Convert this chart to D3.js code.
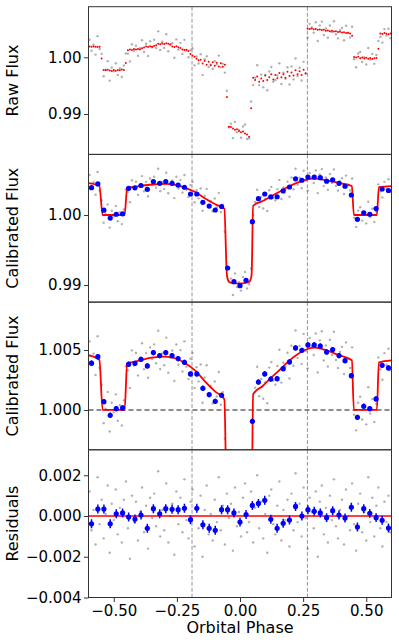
<!DOCTYPE html>
<html>
<head>
<meta charset="utf-8">
<script src="https://cdn.jsdelivr.net/npm/d3@7"></script>
<style>
  body { margin: 0; background: #fff; }
  svg text { font-family: "DejaVu Sans", sans-serif; fill: #000; }
</style>
</head>
<body>
<svg id="chart" width="399" height="642"></svg>
<script>
// ---- data ----
const phase = [
  -0.596,-0.588,-0.580,-0.572,-0.564,-0.556,-0.548,-0.540,-0.532,-0.524,
  -0.516,-0.508,-0.500,-0.492,-0.484,-0.476,-0.468,-0.460,-0.452,-0.444,
  -0.436,-0.428,-0.420,-0.412,-0.404,-0.396,-0.388,-0.380,-0.372,-0.364,
  -0.356,-0.348,-0.340,-0.332,-0.324,-0.316,-0.308,-0.300,-0.292,-0.284,
  -0.276,-0.268,-0.260,-0.252,-0.244,-0.236,-0.228,-0.220,-0.212,-0.204,
  -0.196,-0.188,-0.180,-0.172,-0.164,-0.156,-0.148,-0.140,-0.132,-0.124,
  -0.116,-0.108,-0.100,-0.092,-0.084,-0.076,-0.068,-0.060,-0.052,-0.044,
  -0.036,-0.028,-0.020,-0.012,-0.004,0.004,0.012,0.020,0.028,0.036,
  0.044,0.052,0.060,0.068,0.076,0.084,0.092,0.100,0.108,0.116,
  0.124,0.132,0.140,0.148,0.156,0.164,0.172,0.180,0.188,0.196,
  0.204,0.212,0.220,0.228,0.236,0.244,0.252,0.260,0.268,0.276,
  0.284,0.292,0.300,0.308,0.316,0.324,0.332,0.340,0.348,0.356,
  0.364,0.372,0.380,0.388,0.396,0.404,0.412,0.420,0.428,0.436,
  0.444,0.452,0.460,0.468,0.476,0.484,0.492,0.500,0.508,0.516,
  0.524,0.532,0.540,0.548,0.556,0.564,0.572,0.580,0.588,0.596
];

// raw systematics fit (red dots, top panel)
const rawFit = [
  1.00190,1.00185,1.00192,1.00188,1.00183,1.00186,0.99980,0.99775,0.99770,0.99782,
  0.99768,0.99760,0.99774,0.99765,0.99778,0.99770,0.99783,0.99776,0.99900,1.00125,
  1.00138,1.00130,1.00145,1.00136,1.00148,1.00140,1.00160,1.00175,1.00190,1.00182,
  1.00195,1.00188,1.00200,1.00215,1.00238,1.00230,1.00245,1.00236,1.00248,1.00238,
  1.00225,1.00190,1.00182,1.00196,1.00178,1.00165,1.00140,1.00128,1.00135,1.00110,
  1.00060,1.00030,1.00008,0.99975,0.99950,0.99955,0.99890,0.99935,0.99870,0.99920,
  0.99860,0.99915,0.99850,0.99905,0.99840,0.99895,0.99835,0.99870,0.99300,0.98775,
  0.98770,0.98745,0.98720,0.98730,0.98700,0.98680,0.98690,0.98655,0.98640,0.98600,
  0.99100,0.99640,0.99600,0.99660,0.99570,0.99625,0.99580,0.99680,0.99600,0.99650,
  0.99700,0.99610,0.99690,0.99630,0.99725,0.99650,0.99700,0.99640,0.99745,0.99670,
  0.99730,0.99680,0.99770,0.99700,0.99755,0.99690,0.99780,0.99720,1.00505,1.00500,
  1.00508,1.00495,1.00498,1.00488,1.00492,1.00480,1.00485,1.00470,1.00475,1.00462,
  1.00468,1.00455,1.00458,1.00445,1.00450,1.00436,1.00440,1.00428,1.00432,1.00420,
  1.00380,1.00005,0.99995,1.00008,0.99985,0.99998,0.99980,0.99992,0.99975,0.99990,
  0.99970,0.99985,0.99990,1.00150,1.00420,1.00410,1.00428,1.00415,1.00405,1.00418
];

// raw flux (grey, top panel)
const rawFlux = [
  1.00310,1.00115,1.00222,1.00048,1.00373,1.00146,1.00060,0.99665,0.99780,0.99932,
  0.99588,0.99820,0.99754,0.99895,0.99688,0.99810,0.99653,0.99856,1.00070,1.00065,
  0.99928,1.00230,1.00115,1.00206,1.00028,1.00160,1.00300,1.00095,1.00240,1.00022,
  1.00285,1.00178,1.00310,1.00165,1.00458,1.00130,1.00275,1.00166,1.00408,1.00108,
  1.00225,1.00250,0.99992,1.00316,1.00138,1.00255,1.00060,1.00308,1.00115,1.00000,
  1.00130,1.00160,0.99858,1.00015,0.99890,1.00055,0.99690,0.99965,1.00020,0.99830,
  0.99870,0.99795,0.99930,0.99875,1.00030,0.99825,0.99885,0.99730,0.99410,0.98765,
  0.98830,0.98575,0.98860,0.98680,0.98720,0.98580,0.98780,0.98815,0.98560,0.98570,
  0.99220,0.99510,0.99640,0.99860,0.99510,0.99695,0.99470,0.99690,0.99420,0.99750,
  0.99830,0.99570,0.99600,0.99680,0.99895,0.99530,0.99730,0.99620,0.99825,0.99520,
  0.99840,0.99610,0.99980,0.99670,0.99815,0.99590,0.99920,0.99710,1.00345,1.00590,
  1.00528,1.00435,1.00618,1.00288,1.00562,1.00630,1.00395,1.00510,1.00345,1.00562,
  1.00448,1.00635,1.00408,1.00335,1.00480,1.00516,1.00300,1.00558,1.00432,1.00350,
  1.00540,0.99965,0.99825,1.00068,1.00095,0.99918,1.00000,0.99872,1.00165,0.99960,
  1.00060,0.99885,1.00040,1.00290,1.00360,1.00260,1.00498,1.00385,1.00505,1.00338
];

// calibrated flux (grey, panels 2 and 3)
const calFlux = [
  1.00572,1.00375,1.00468,1.00291,1.00614,1.00350,1.00210,0.99890,1.00010,1.00150,
  0.99820,1.00060,0.99980,1.00130,0.99910,1.00040,0.99870,1.00080,1.00365,1.00330,
  1.00184,1.00497,1.00371,1.00475,1.00288,1.00432,1.00556,1.00340,1.00474,1.00268,
  1.00522,1.00426,1.00547,1.00389,1.00660,1.00341,1.00472,1.00373,1.00603,1.00310,
  1.00437,1.00495,1.00242,1.00546,1.00377,1.00499,1.00321,1.00572,1.00361,1.00259,
  1.00427,1.00475,1.00183,1.00357,1.00238,1.00379,1.00060,1.00271,1.00373,1.00117,
  1.00200,1.00054,1.00237,1.00112,1.00317,1.00043,1.00149,0.99762,0.99260,0.99045,
  0.99092,0.98858,0.99165,0.98972,0.99040,0.98920,0.99113,0.99187,0.98951,0.99012,
  0.99235,1.00001,1.00186,1.00360,1.00115,1.00259,1.00094,1.00230,1.00057,1.00353,
  1.00400,1.00246,1.00211,1.00367,1.00502,1.00228,1.00394,1.00361,1.00477,1.00262,
  1.00535,1.00369,1.00662,1.00434,1.00534,1.00384,1.00634,1.00492,1.00346,1.00600,
  1.00534,1.00458,1.00637,1.00313,1.00580,1.00656,1.00413,1.00538,1.00362,1.00585,
  1.00459,1.00652,1.00416,1.00350,1.00483,1.00526,1.00300,1.00563,1.00426,1.00350,
  1.00522,0.99960,0.99830,1.00060,1.00110,0.99920,1.00020,0.99880,1.00190,0.99970,
  1.00090,0.99900,1.00050,1.00438,1.00339,1.00252,1.00474,1.00377,1.00510,1.00333
];

// residuals (grey, bottom panel)
const resid = [
  0.0012,-0.0007,0.0003,-0.0014,0.0019,-0.0004,0.0008,-0.0011,0.0001,0.0015,
  -0.0018,0.0006,-0.0002,0.0013,-0.0009,0.0004,-0.0013,0.0008,0.0017,-0.0006,
  -0.0021,0.0010,-0.0003,0.0007,-0.0012,0.0002,0.0014,-0.0008,0.0005,-0.0016,
  0.0009,-0.0001,0.0011,-0.0005,0.0022,-0.0010,0.0003,-0.0007,0.0016,-0.0013,
  0.0000,0.0006,-0.0019,0.0012,-0.0004,0.0009,-0.0008,0.0018,-0.0002,-0.0011,
  0.0007,0.0013,-0.0015,0.0004,-0.0006,0.0010,-0.0020,0.0003,0.0015,-0.0009,
  0.0001,-0.0012,0.0008,-0.0003,0.0019,-0.0007,0.0005,-0.0014,0.0011,-0.0001,
  0.0006,-0.0017,0.0014,-0.0005,0.0002,-0.0010,0.0009,0.0016,-0.0008,-0.0003,
  0.0012,-0.0013,0.0004,0.0020,-0.0006,0.0007,-0.0011,0.0001,-0.0018,0.0010,
  0.0013,-0.0004,-0.0009,0.0005,0.0017,-0.0012,0.0003,-0.0002,0.0008,-0.0015,
  0.0011,-0.0007,0.0021,-0.0003,0.0006,-0.0010,0.0014,-0.0001,-0.0016,0.0009,
  0.0002,-0.0006,0.0012,-0.0020,0.0007,0.0015,-0.0009,0.0004,-0.0013,0.0010,
  -0.0002,0.0018,-0.0005,-0.0011,0.0003,0.0008,-0.0014,0.0013,0.0000,-0.0007,
  0.0016,-0.0004,-0.0017,0.0006,0.0011,-0.0008,0.0002,-0.0012,0.0019,-0.0003,
  0.0009,-0.0010,0.0005,0.0014,-0.0006,-0.0015,0.0007,-0.0003,0.0010,-0.0008
];

// binned points (blue)
const binPhase = [
  -0.588,-0.563,-0.539,-0.514,-0.490,-0.465,-0.441,-0.416,-0.392,-0.367,
  -0.343,-0.318,-0.294,-0.269,-0.245,-0.220,-0.196,-0.171,-0.147,-0.122,
  -0.098,-0.073,-0.049,-0.024,0.000,0.024,0.049,0.073,0.098,0.122,
  0.147,0.171,0.196,0.220,0.245,0.269,0.294,0.318,0.343,0.367,
  0.392,0.416,0.441,0.465,0.490,0.514,0.539,0.563,0.588
];
const binFlux = [
  1.00390,1.00444,1.00069,0.99956,1.00011,1.00017,1.00381,1.00389,1.00422,1.00367,
  1.00478,1.00453,1.00478,1.00453,1.00428,1.00397,1.00300,1.00300,1.00181,1.00128,
  1.00072,1.00122,0.99243,0.99048,0.98990,0.99067,0.99905,1.00233,1.00300,1.00258,
  1.00261,1.00344,1.00400,1.00517,1.00497,1.00542,1.00542,1.00533,1.00483,1.00503,
  1.00453,1.00411,1.00286,0.99939,1.00031,1.00011,1.00092,1.00372,1.00350
];
const binResid = [
  -0.00038,0.00034,0.00034,-0.00038,0.00011,0.00015,-0.00005,-0.00015,0.00005,-0.00060,
  0.00036,0.00011,0.00036,0.00033,0.00031,0.00038,-0.00018,0.00038,-0.00043,-0.00060,
  -0.00070,0.00031,0.00031,0.00015,-0.00030,0.00007,0.00052,0.00062,0.00077,-0.00016,
  -0.00060,-0.00036,-0.00020,0.00047,0.00000,0.00031,0.00023,0.00015,-0.00008,0.00026,
  0.00005,-0.00010,0.00043,-0.00054,0.00036,0.00013,-0.00008,-0.00021,-0.00059
];
const binErr = 0.00022;

// best-fit model (red line, panels 2 and 3)
const modelPhase = [
  -0.600,-0.557,-0.544,-0.457,-0.447,-0.415,-0.349,-0.296,-0.257,-0.217,
  -0.177,-0.138,-0.098,-0.062,-0.052,-0.046,-0.035,0.000,0.035,0.042,
  0.046,0.052,0.090,0.125,0.160,0.191,0.225,0.257,0.295,0.338,
  0.390,0.443,0.451,0.542,0.550,0.600
];
const modelFlux = [
  1.00456,1.00418,1.00000,1.00000,1.00389,1.00403,1.00436,1.00444,1.00431,1.00389,
  1.00328,1.00236,1.00153,1.00090,0.99150,0.99060,0.99030,0.99020,0.99040,0.99080,
  0.99150,1.00131,1.00200,1.00272,1.00340,1.00403,1.00460,1.00500,1.00519,1.00500,
  1.00458,1.00414,1.00000,1.00000,1.00397,1.00414
];

const markPhase = [-0.19, 0.267];           // dashed vertical markers
const xTicks = [-0.5, -0.25, 0, 0.25, 0.5];
const rawTicks = [0.99, 1.00];
const calTicks = [0.99, 1.00];
const calZoomTicks = [1.000, 1.005];
const residTicks = [-0.004, -0.002, 0.000, 0.002];

// ---- layout ----
const svg = d3.select("#chart");
const plotLeft = 88.5, plotRight = 391.5, panelH = 147.7;

const x = d3.scaleLinear().domain([-0.6, 0.6]).range([plotLeft, plotRight]);

const panels = [
  {label: "Raw Flux",        top: 6.7,   domain: [0.98287, 1.00893], ticks: rawTicks,     fmt: d3.format(".2f")},
  {label: "Calibrated Flux", top: 154.4, domain: [0.98756, 1.00866], ticks: calTicks,     fmt: d3.format(".2f")},
  {label: "Calibrated Flux", top: 302.1, domain: [0.99668, 1.00899], ticks: calZoomTicks, fmt: d3.format(".3f")},
  {label: "Residuals",       top: 449.8, domain: [-0.004, 0.00325],  ticks: residTicks,   fmt: d3.format(".3f")}
];

const defs = svg.append("defs");

panels.forEach((p, i) => {
  p.y = d3.scaleLinear().domain(p.domain).range([p.top + panelH, p.top]);
  defs.append("clipPath").attr("id", "clip" + i)
    .append("rect")
    .attr("x", plotLeft).attr("y", p.top)
    .attr("width", plotRight - plotLeft).attr("height", panelH);
  p.g = svg.append("g").attr("clip-path", `url(#clip${i})`);

  // dashed phase markers
  p.g.selectAll(".mark")
    .data(markPhase)
    .enter().append("line")
    .attr("x1", d => x(d)).attr("x2", d => x(d))
    .attr("y1", p.top).attr("y2", p.top + panelH)
    .attr("stroke", "#888").attr("stroke-width", 0.9)
    .attr("stroke-dasharray", "4,2");
});

function greyDots(p, values) {
  p.g.append("g").selectAll("circle")
    .data(values)
    .enter().append("circle")
    .attr("cx", (d, i) => x(phase[i]))
    .attr("cy", d => p.y(d))
    .attr("r", 1.2)
    .attr("fill", "#707070")
    .attr("fill-opacity", 0.55);
}

function binned(p, values) {
  const b = p.g.append("g");
  b.selectAll("line")
    .data(values)
    .enter().append("line")
    .attr("x1", (d, i) => x(binPhase[i]))
    .attr("x2", (d, i) => x(binPhase[i]))
    .attr("y1", d => p.y(d - binErr))
    .attr("y2", d => p.y(d + binErr))
    .attr("stroke", "blue").attr("stroke-width", 1.5);
  b.selectAll("circle")
    .data(values)
    .enter().append("circle")
    .attr("cx", (d, i) => x(binPhase[i]))
    .attr("cy", d => p.y(d))
    .attr("r", 2.6)
    .attr("fill", "blue");
}

// panel 1: raw flux + systematics fit
greyDots(panels[0], rawFlux);
panels[0].g.append("g").selectAll("circle")
  .data(rawFit)
  .enter().append("circle")
  .attr("cx", (d, i) => x(phase[i]))
  .attr("cy", d => panels[0].y(d))
  .attr("r", 1.0)
  .attr("fill", "red");

// panels 2 and 3: calibrated flux + model
[panels[1], panels[2]].forEach((p, j) => {
  greyDots(p, calFlux);
  if (j === 1) {
    p.g.append("line")
      .attr("x1", plotLeft).attr("x2", plotRight)
      .attr("y1", p.y(1)).attr("y2", p.y(1))
      .attr("stroke", "#666").attr("stroke-width", 1.4)
      .attr("stroke-dasharray", "5,3");
  }
  const line = d3.line()
    .curve(d3.curveMonotoneX)
    .x((d, i) => x(modelPhase[i]))
    .y(d => p.y(d));
  p.g.append("path")
    .datum(modelFlux)
    .attr("d", line)
    .attr("fill", "none")
    .attr("stroke", "red")
    .attr("stroke-width", 1.8);
  binned(p, binFlux);
});

// panel 4: residuals
greyDots(panels[3], resid);
panels[3].g.append("line")
  .attr("x1", plotLeft).attr("x2", plotRight)
  .attr("y1", panels[3].y(0)).attr("y2", panels[3].y(0))
  .attr("stroke", "red").attr("stroke-width", 1.6);
binned(panels[3], binResid);

// frames, y axes, labels
panels.forEach(p => {
  svg.append("rect")
    .attr("x", plotLeft).attr("y", p.top)
    .attr("width", plotRight - plotLeft).attr("height", panelH)
    .attr("fill", "none").attr("stroke", "#333").attr("stroke-width", 1);

  const ax = svg.append("g")
    .attr("transform", `translate(${plotLeft},0)`)
    .call(d3.axisLeft(p.y).tickValues(p.ticks).tickFormat(p.fmt).tickSize(4.5).tickPadding(2.5));
  ax.select(".domain").remove();
  ax.selectAll(".tick line").attr("stroke", "#333");
  ax.selectAll("text").attr("font-size", "15px").attr("font-family", "DejaVu Sans");

  svg.append("text")
    .attr("transform", `translate(18.3,${p.top + panelH / 2}) rotate(-90)`)
    .attr("text-anchor", "middle")
    .attr("font-size", "16px")
    .text(p.label);
});

const bottom = panels[3].top + panelH;
const xa = svg.append("g")
  .attr("transform", `translate(0,${bottom})`)
  .call(d3.axisBottom(x).tickValues(xTicks).tickFormat(d3.format(".2f")).tickSize(4.5).tickPadding(3));
xa.select(".domain").remove();
xa.selectAll(".tick line").attr("stroke", "#333");
xa.selectAll("text").attr("font-size", "15px").attr("font-family", "DejaVu Sans");

svg.append("text")
  .attr("x", (plotLeft + plotRight) / 2)
  .attr("y", 633.3)
  .attr("text-anchor", "middle")
  .attr("font-size", "16px")
  .text("Orbital Phase");
</script>
</body>
</html>
